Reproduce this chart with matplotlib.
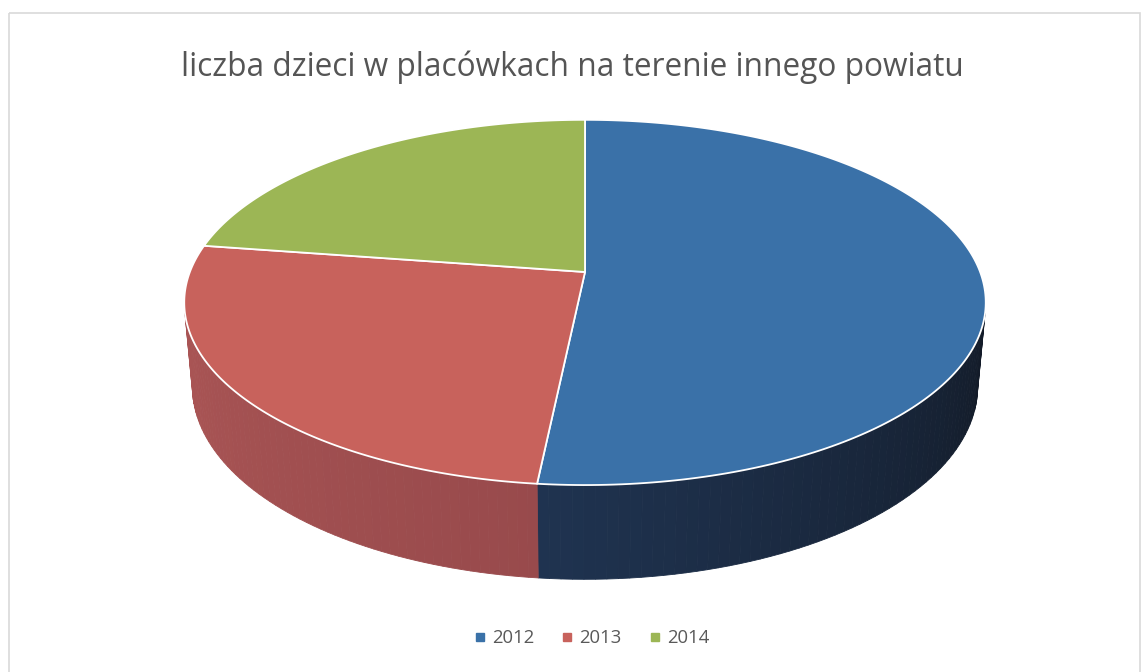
import numpy as np
import matplotlib.pyplot as plt
from matplotlib.colors import to_rgb
from matplotlib.patches import Polygon, Rectangle
from matplotlib.lines import Line2D

# data
years = ['2012', '2013', '2014']
values = [16, 8, 7]
title = 'liczba dzieci w placówkach na terenie innego powiatu'

# colours: top face, wall (left shade, right shade)
top_colors = ['#3a71a8', '#c8625c', '#9cb655']
wall_colors = [('#1f3350', '#131b28'), ('#aa5555', '#984a4c'), ('#7d9444', '#6b7f3a')]

W, H = 1147, 672

# camera for the 3d look (perspective, like Excel)
elev = np.radians(26.7)
dist = 5.36
depth = 0.24
scale = 2118.0
cx, cy = 585, 272


def project(x, y, z):
    cam_y = -dist * np.cos(elev)
    cam_z = dist * np.sin(elev)
    py = y - cam_y
    pz = z - cam_z
    d = py * np.cos(elev) - pz * np.sin(elev)
    u = x / d
    v = (py * np.sin(elev) + pz * np.cos(elev)) / d
    return cx + u * scale, cy - v * scale


fig = plt.figure(figsize=(W / 100, H / 100), dpi=100)
ax = fig.add_axes([0, 0, 1, 1])
ax.set_xlim(0, W)
ax.set_ylim(H, 0)
ax.axis('off')

# chart frame
ax.add_patch(Rectangle((9, 13), 1131, 700, fill=False, edgecolor='#d9d9d9', lw=1.2))

# slice angles, start at 12 o'clock, clockwise
fr = np.array(values, dtype=float) / sum(values)
cum = np.concatenate([[0], np.cumsum(fr)])
t_start = 90 - 360 * cum[:-1]
t_end = 90 - 360 * cum[1:]

# visible part of the side wall
tang = np.degrees(np.arcsin(1 / (dist * np.cos(elev))))
vis_lo, vis_hi = -180 + tang, -tang

# walls
for i in range(len(values)):
    lo = max(t_end[i], vis_lo)
    hi = min(t_start[i], vis_hi)
    if lo >= hi:
        continue
    c0 = np.array(to_rgb(wall_colors[i][0]))
    c1 = np.array(to_rgb(wall_colors[i][1]))
    ts = np.linspace(lo, hi, 60)
    for k in range(len(ts) - 1):
        a = np.radians(ts[k:k + 2])
        xa, ya = np.cos(a), np.sin(a)
        p_top = [project(xa[j], ya[j], 0) for j in range(2)]
        p_bot = [project(xa[j], ya[j], -depth) for j in range(2)]
        f = (ts[k] - lo) / (hi - lo)
        col = c0 + (c1 - c0) * np.clip(f, 0, 1)
        ax.add_patch(Polygon([p_top[0], p_top[1], p_bot[1], p_bot[0]],
                             closed=True, facecolor=col, edgecolor=col, lw=0.6))

# top faces
for i in range(len(values)):
    a = np.radians(np.linspace(t_start[i], t_end[i], 200))
    pts = [project(0, 0, 0)] + [project(np.cos(t), np.sin(t), 0) for t in a]
    ax.add_patch(Polygon(pts, closed=True, facecolor=top_colors[i],
                         edgecolor='white', lw=1.3, joinstyle='round'))

fig.text(0.499, 1 - 67 / H, title, ha='center', va='center',
         fontsize=22.8, color='#555555', family='Open Sans')

handles = [Line2D([], [], marker='s', ls='none', markersize=6, color=c) for c in top_colors]
fig.legend(handles, years, loc='center', bbox_to_anchor=(0.516, 1 - 638 / H), ncol=3,
           frameon=False, handlelength=0.6, handletextpad=0.35, columnspacing=1.5,
           prop={'family': 'Open Sans', 'size': 13.3}, labelcolor='#595959')

fig.savefig('out.png', dpi=100, facecolor='white')
